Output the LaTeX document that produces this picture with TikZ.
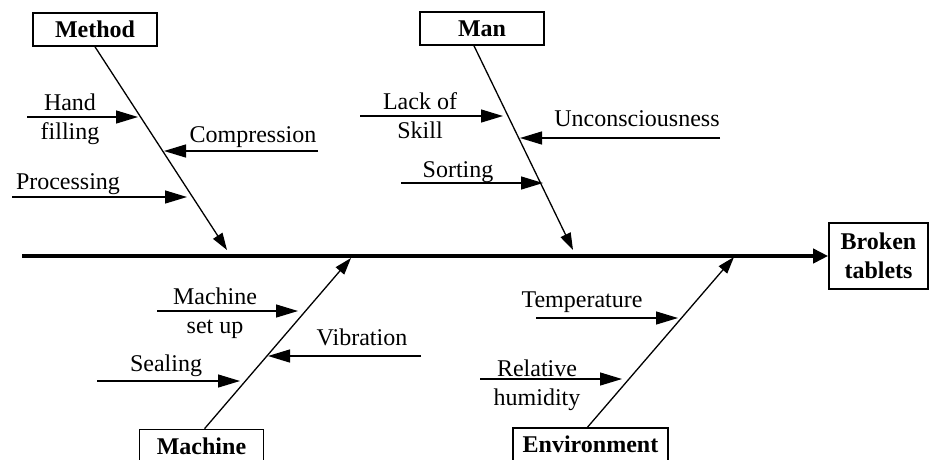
\documentclass[tikz,border=0pt]{standalone}
\usepackage{fontspec}
\setmainfont{Liberation Serif}
\usetikzlibrary{arrows.meta}

\begin{document}
\begin{tikzpicture}[x=1pt, y=-1pt,
  font=\fontsize{24}{29}\selectfont,
  catbox/.style={draw, line width=1.6pt, minimum width=124pt, minimum height=33pt,
    inner sep=4pt, font=\fontsize{24}{29}\selectfont\bfseries},
  spine/.style={-{Triangle[length=15pt, width=14pt]}, line width=4.5pt},
  bone/.style={-{Triangle[length=17pt, width=11pt]}, line width=1.3pt},
  cause/.style={-{Triangle[length=22pt, width=13pt]}, line width=1.3pt},
  lbl/.style={align=center, inner sep=0pt, anchor=base}
]
\clip (0,0) rectangle (935,459);

% effect and spine
\node[catbox, align=center, minimum width=99pt, minimum height=66pt] (bt) at (878.5,256) {Broken\\tablets};
\coordinate (tail) at (22,256);
\draw[spine] (tail) -- (bt.west);

% --- category boxes ---
\node[catbox] (meth) at (95,29.5) {Method};
\node[catbox] (man) at (482,28.5) {Man};
\node[catbox] (mach) at (201.5,446) {Machine};
\node[catbox, minimum width=155pt] (env) at (590.5,444.5) {Environment};

% tips of the bones on the spine
\coordinate (methtip) at (227,250);
\coordinate (mantip) at (573,250);
\coordinate (machtip) at (351,258);
\coordinate (envtip) at (734,257);

\draw[bone] (meth.south) -- (methtip);
\draw[bone] ([xshift=-8pt]man.south) -- (mantip);
\draw[bone] ([xshift=3pt]mach.north) -- (machtip);
\draw[bone] ([xshift=-3pt]env.north) -- (envtip);

% --- causes: method ---
\node[lbl] (hand) at (70,139) {Hand\\filling};
\coordinate (hand0) at (27,117); \coordinate (hand1) at (138,117);
\draw[cause] (hand0) -- (hand1);
\node[lbl] (comp) at (253,142) {Compression};
\coordinate (comp0) at (318,151); \coordinate (comp1) at (164,151);
\draw[cause] (comp0) -- (comp1);
\node[lbl] (proc) at (68,189) {Processing};
\coordinate (proc0) at (12,197); \coordinate (proc1) at (187,197);
\draw[cause] (proc0) -- (proc1);

% --- causes: man ---
\node[lbl] (lack) at (420,138) {Lack of\\Skill};
\coordinate (lack0) at (360,116); \coordinate (lack1) at (503,116);
\draw[cause] (lack0) -- (lack1);
\node[lbl] (unc) at (637,126) {Unconsciousness};
\coordinate (unc0) at (720,138); \coordinate (unc1) at (520,138);
\draw[cause] (unc0) -- (unc1);
\node[lbl] (sort) at (458,177) {Sorting};
\coordinate (sort0) at (401,183); \coordinate (sort1) at (543,183);
\draw[cause] (sort0) -- (sort1);

% --- causes: machine ---
\node[lbl] (msu) at (215,333) {Machine\\set up};
\coordinate (msu0) at (157,311); \coordinate (msu1) at (298,311);
\draw[cause] (msu0) -- (msu1);
\node[lbl] (vib) at (362,345) {Vibration};
\coordinate (vib0) at (421,356); \coordinate (vib1) at (268,356);
\draw[cause] (vib0) -- (vib1);
\node[lbl] (seal) at (166,371) {Sealing};
\coordinate (seal0) at (97,381); \coordinate (seal1) at (240,381);
\draw[cause] (seal0) -- (seal1);

% --- causes: environment ---
\node[lbl] (temp) at (582,307) {Temperature};
\coordinate (temp0) at (536,318); \coordinate (temp1) at (678,318);
\draw[cause] (temp0) -- (temp1);
\node[lbl] (rh) at (537,405) {Relative\\humidity};
\coordinate (rh0) at (480,379); \coordinate (rh1) at (622,379);
\draw[cause] (rh0) -- (rh1);

\end{tikzpicture}
\end{document}
